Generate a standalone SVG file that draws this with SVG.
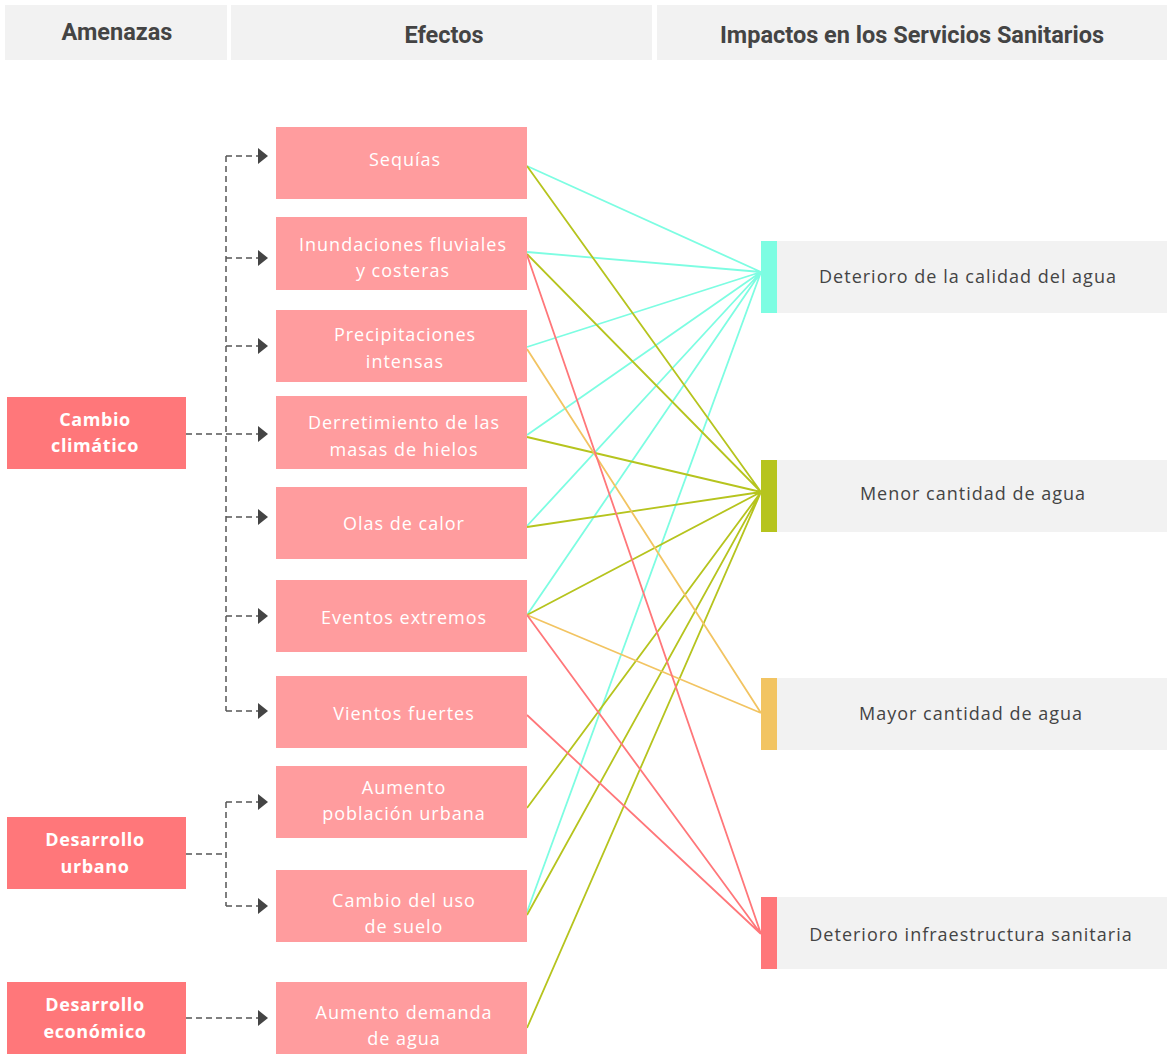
<svg xmlns="http://www.w3.org/2000/svg" width="1167" height="1055" viewBox="0 0 1167 1055">
<defs>
<style>
.hdr{fill:#f2f2f2}
.hdrt{font-family:Roboto,"Liberation Sans",sans-serif;font-weight:bold;font-size:23.5px;fill:#444;text-anchor:middle}
.thr{fill:#ff777a}
.eff{fill:#ff9c9e}
.imp{fill:#f2f2f2}
.wt{font-family:"Open Sans","DejaVu Sans",sans-serif;font-size:18px;letter-spacing:1px;fill:#fff;text-anchor:middle;font-weight:500}
.wtb{font-family:"Open Sans","DejaVu Sans",sans-serif;font-size:18px;letter-spacing:0.6px;fill:#fff;text-anchor:middle;font-weight:bold}
.it{font-family:"Open Sans","DejaVu Sans",sans-serif;font-size:18px;letter-spacing:1px;fill:#444;text-anchor:middle;font-weight:500}
.dash{fill:none;stroke:#555;stroke-width:1.5;stroke-dasharray:6 4}
.arr{fill:none;stroke:#555;stroke-width:1.5;stroke-dasharray:6 4;marker-end:url(#ah)}
.aq{stroke:#7dfde2;stroke-width:1.8;fill:none}
.gr{stroke:#b6c41e;stroke-width:1.8;fill:none}
.ye{stroke:#f2c462;stroke-width:1.8;fill:none}
.rd{stroke:#ff777a;stroke-width:1.8;fill:none}
</style>
<marker id="ah" markerUnits="userSpaceOnUse" markerWidth="11" markerHeight="17" refX="0" refY="8" orient="auto">
<path d="M0,0 L10,8 L0,16 Z" fill="#444"/>
</marker>
</defs>

<g id="headers">
<rect class="hdr" x="5" y="5" width="222" height="55"/>
<text class="hdrt" x="117" y="40">Amenazas</text>
<rect class="hdr" x="231" y="5" width="421" height="55"/>
<text class="hdrt" x="444" y="43">Efectos</text>
<rect class="hdr" x="657" y="5" width="510" height="55"/>
<text class="hdrt" x="912" y="43">Impactos en los Servicios Sanitarios</text>
</g>

<g id="connectors">
<path class="dash" d="M226,156 V711"/>
<path class="dash" d="M186,434 H226"/>
<path class="arr" d="M226,156 H258"/>
<path class="arr" d="M226,258 H258"/>
<path class="arr" d="M226,346 H258"/>
<path class="arr" d="M226,434 H258"/>
<path class="arr" d="M226,517 H258"/>
<path class="arr" d="M226,616 H258"/>
<path class="arr" d="M226,711 H258"/>
<path class="dash" d="M186,854 H226 M226,802 V906"/>
<path class="arr" d="M226,802 H258"/>
<path class="arr" d="M226,906 H258"/>
<path class="arr" d="M186,1018 H258"/>

<path class="aq" d="M527,166 L761,272 M527,252 L761,272 M527,347 L761,272 M527,435 L761,272 M527,526 L761,272 M527,615 L761,272 M527,912 L761,272"/>
<path class="gr" d="M527,166 L761,492 M527,254 L761,492 M527,437 L761,492 M527,527 L761,492 M527,615 L761,492 M527,808 L761,492 M527,915 L761,492 M527,1028 L761,492"/>
<path class="ye" d="M527,349 L761,713 M527,615 L761,713"/>
<path class="rd" d="M527,255 L761,934 M527,615 L761,934 M527,715 L761,934"/>
</g>

<g id="threat-cambio"><rect class="thr" x="7" y="397" width="179" height="72"/><text class="wtb" x="95" y="426">Cambio</text><text class="wtb" x="95" y="452">climático</text></g>
<g id="threat-urbano"><rect class="thr" x="7" y="817" width="179" height="72"/><text class="wtb" x="95" y="846">Desarrollo</text><text class="wtb" x="95" y="873">urbano</text></g>
<g id="threat-economico"><rect class="thr" x="7" y="982" width="179" height="72"/><text class="wtb" x="95" y="1011">Desarrollo</text><text class="wtb" x="95" y="1038">económico</text></g>

<g id="eff-sequias"><rect class="eff" x="276" y="127" width="251" height="72"/><text class="wt" x="405" y="166">Sequías</text></g>
<g id="eff-inundaciones"><rect class="eff" x="276" y="217" width="251" height="73"/><text class="wt" x="403" y="251">Inundaciones fluviales</text><text class="wt" x="403" y="277">y costeras</text></g>
<g id="eff-precipitaciones"><rect class="eff" x="276" y="310" width="251" height="72"/><text class="wt" x="405" y="341">Precipitaciones</text><text class="wt" x="405" y="368">intensas</text></g>
<g id="eff-derretimiento"><rect class="eff" x="276" y="396" width="251" height="73"/><text class="wt" x="404" y="429">Derretimiento de las</text><text class="wt" x="404" y="456">masas de hielos</text></g>
<g id="eff-olas"><rect class="eff" x="276" y="487" width="251" height="72"/><text class="wt" x="404" y="530">Olas de calor</text></g>
<g id="eff-eventos"><rect class="eff" x="276" y="580" width="251" height="72"/><text class="wt" x="404" y="624">Eventos extremos</text></g>
<g id="eff-vientos"><rect class="eff" x="276" y="676" width="251" height="72"/><text class="wt" x="404" y="720">Vientos fuertes</text></g>
<g id="eff-poblacion"><rect class="eff" x="276" y="766" width="251" height="72"/><text class="wt" x="404" y="794">Aumento</text><text class="wt" x="404" y="820">población urbana</text></g>
<g id="eff-suelo"><rect class="eff" x="276" y="870" width="251" height="72"/><text class="wt" x="404" y="907">Cambio del uso</text><text class="wt" x="404" y="933">de suelo</text></g>
<g id="eff-demanda"><rect class="eff" x="276" y="982" width="251" height="72"/><text class="wt" x="404" y="1019">Aumento demanda</text><text class="wt" x="404" y="1045">de agua</text></g>

<g id="imp-calidad"><rect class="imp" x="777" y="241" width="390" height="72"/><rect x="761" y="241" width="16" height="72" fill="#7dfde2"/><text class="it" x="968" y="283">Deterioro de la calidad del agua</text></g>
<g id="imp-menor"><rect class="imp" x="777" y="460" width="390" height="72"/><rect x="761" y="460" width="16" height="72" fill="#b6c41e"/><text class="it" x="973" y="500">Menor cantidad de agua</text></g>
<g id="imp-mayor"><rect class="imp" x="777" y="678" width="390" height="72"/><rect x="761" y="678" width="16" height="72" fill="#f2c462"/><text class="it" x="971" y="720">Mayor cantidad de agua</text></g>
<g id="imp-infra"><rect class="imp" x="777" y="897" width="390" height="72"/><rect x="761" y="897" width="16" height="72" fill="#ff777a"/><text class="it" x="971" y="941">Deterioro infraestructura sanitaria</text></g>
</svg>
